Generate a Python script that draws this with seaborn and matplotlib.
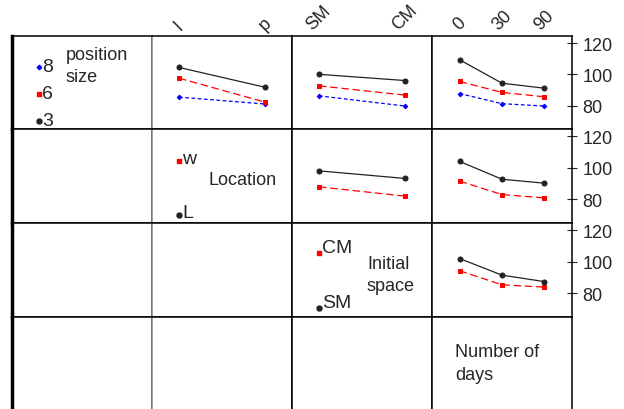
import matplotlib
matplotlib.use("Agg")
import matplotlib.pyplot as plt
import seaborn as sns

sns.set_style("white")
plt.rcParams["font.family"] = ["Liberation Sans", "DejaVu Sans"]

# levels shown on the top axis of each column
location_ticks = ["l", "p"]
space_ticks = ["SM", "CM"]
days_ticks = ["0", "30", "90"]

# legend labels in the diagonal cells
size_levels = ["8", "6", "3"]
location_levels = ["w", "L"]
space_levels = ["CM", "SM"]

# row 1: position size as trace
size_by_location = {"8": [85.4, 81.0], "6": [97.5, 82.2], "3": [104.4, 91.7]}
size_by_space = {"8": [86.2, 79.7], "6": [92.6, 86.7], "3": [100.0, 96.0]}
size_by_days = {"8": [87.7, 81.2, 79.7], "6": [95.4, 88.4, 85.6], "3": [109.3, 94.3, 91.1]}
# row 2: location as trace
location_by_space = {"w": [87.9, 82.0], "L": [98.0, 93.2]}
location_by_days = {"w": [91.5, 83.0, 80.9], "L": [104.0, 92.7, 90.2]}
# row 3: initial space as trace
space_by_days = {"CM": [94.3, 85.4, 83.9], "SM": [102.0, 91.5, 87.4]}

y_ticks = [80, 100, 120]

# line look per trace level
styles = {
    "8": dict(color="blue", marker="D", ms=2.3, ls=(0, (3, 2))),
    "6": dict(color="red", marker="s", ms=2.3, ls=(0, (6, 3))),
    "3": dict(color="#222222", marker="o", ms=3.6, ls="-"),
    "w": dict(color="red", marker="s", ms=2.3, ls=(0, (6, 3))),
    "L": dict(color="#222222", marker="o", ms=3.6, ls="-"),
    "CM": dict(color="red", marker="s", ms=2.3, ls=(0, (6, 3))),
    "SM": dict(color="#222222", marker="o", ms=3.6, ls="-"),
}

FS = 13
W, H = 624, 410
col_edges = [12, 152, 292, 432, 572]
row_edges = [37, 130, 224, 318, 414]

fig = plt.figure(figsize=(W / 100, H / 100), dpi=100)


def cell(r, c):
    x0, x1 = col_edges[c], col_edges[c + 1]
    y0, y1 = row_edges[r], row_edges[r + 1]
    ax = fig.add_axes([x0 / W, 1 - y1 / H, (x1 - x0) / W, (y1 - y0) / H])
    ax.set_xticks([])
    ax.set_yticks([])
    for s in ax.spines.values():
        s.set_color("black")
        s.set_linewidth(1.1)
    if c == 0:
        ax.spines["left"].set_linewidth(2.5)
    if c == 1:
        ax.spines["left"].set_color("#888888")
    if r == 3:
        ax.spines["bottom"].set_visible(False)
    return ax


def panel(ax, data, ticks, top_labels, right_axis):
    n = len(ticks)
    xs = list(range(n))
    for key, vals in data.items():
        st = styles[key]
        sns.lineplot(x=xs, y=vals, ax=ax, color=st["color"], marker=st["marker"],
                     markersize=st["ms"], markeredgecolor=st["color"],
                     linestyle=st["ls"], lw=0.9, legend=False)
    pad = 0.314 if n == 2 else 0.65
    ax.set_xlim(-pad, n - 1 + pad)
    ax.set_ylim(65, 124.5)
    ax.set_xlabel("")
    ax.set_ylabel("")
    if top_labels:
        ax.xaxis.tick_top()
        ax.set_xticks(xs)
        ax.set_xticklabels(ticks, rotation=45, ha="center", va="bottom")
        ax.tick_params(axis="x", length=0, pad=2, labelsize=FS)
    else:
        ax.set_xticks([])
    if right_axis:
        ax.yaxis.tick_right()
        ax.set_yticks(y_ticks)
        ax.tick_params(axis="y", direction="inout", length=7, width=0.8,
                       labelsize=FS, pad=4)
    else:
        ax.set_yticks([])


def legend_cell(ax, levels, title, ys, text_dy):
    for lev, y in zip(levels, ys):
        st = styles[lev]
        ax.plot([0.19], [y], transform=ax.transAxes, color=st["color"],
                marker=st["marker"], ms=st["ms"], mec=st["color"], ls="none")
        ax.text(0.215, y + text_dy, lev, transform=ax.transAxes, fontsize=FS + 1,
                ha="left", va="center")
    ax.text(title[1], title[2], title[0], transform=ax.transAxes, fontsize=FS,
            ha="left", va="center", linespacing=1.4)


axes = {}
for r in range(4):
    for c in range(4):
        axes[r, c] = cell(r, c)

panel(axes[0, 1], size_by_location, location_ticks, True, False)
panel(axes[0, 2], size_by_space, space_ticks, True, False)
panel(axes[0, 3], size_by_days, days_ticks, True, True)
panel(axes[1, 2], location_by_space, space_ticks, False, False)
panel(axes[1, 3], location_by_days, days_ticks, False, True)
panel(axes[2, 3], space_by_days, days_ticks, False, True)

legend_cell(axes[0, 0], size_levels, ("position\nsize", 0.385, 0.68), [0.667, 0.376, 0.086], 0.01)
legend_cell(axes[1, 1], location_levels, ("Location", 0.405, 0.46), [0.66, 0.085], 0.03)
legend_cell(axes[2, 2], space_levels, ("Initial\nspace", 0.535, 0.45), [0.68, 0.096], 0.06)
axes[3, 3].text(0.165, 0.52, "Number of\ndays", transform=axes[3, 3].transAxes,
                fontsize=FS, ha="left", va="center", linespacing=1.4)

fig.savefig("out.png", dpi=100)
